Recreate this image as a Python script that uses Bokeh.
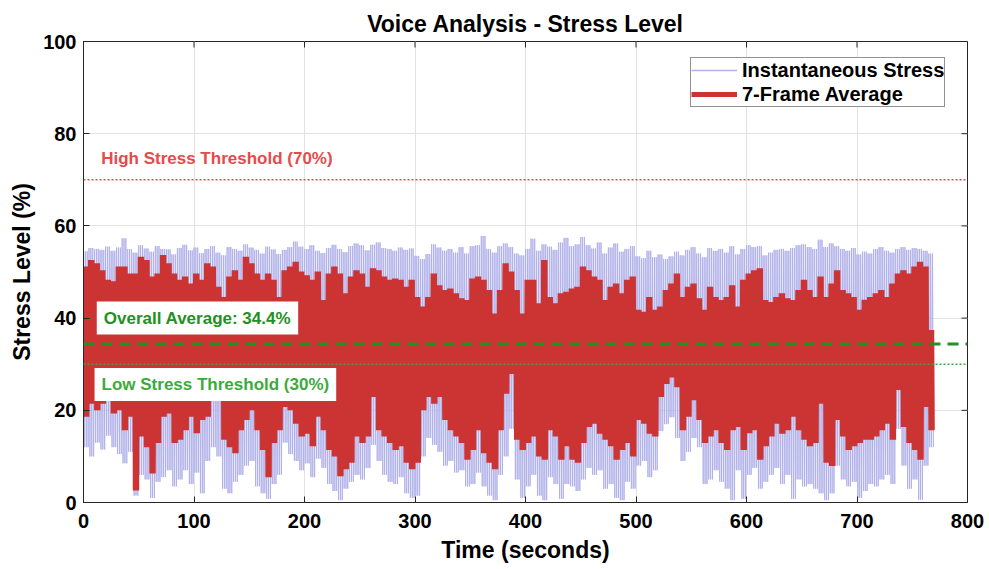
import numpy as np
from bokeh.plotting import figure
from bokeh.models import (Label, Span, Legend, LegendItem, Range1d, FixedTicker)
from bokeh.embed import file_html
from bokeh.resources import INLINE

# ---------------- data (5-second blocks) ----------------
block_len = 5.0
block_start = list(range(0, 770, 5))  # seconds

red_hi = [51.2, 52.6, 51.9, 50.4, 48.3, 48.0, 51.2, 51.2, 49.7, 49.7, 53.3, 52.6, 49.0, 49.7, 53.7, 51.9, 49.7, 48.3,
          49.0, 47.5, 49.7, 48.3, 51.9, 51.2, 46.8, 44.6, 49.0, 50.4, 48.3, 53.3, 51.9, 49.7, 48.3, 49.7, 48.3, 44.6,
          50.4, 51.2, 52.2, 50.1, 49.3, 48.3, 50.1, 43.9, 49.7, 51.2, 49.7, 45.4, 49.0, 50.4, 49.7, 46.8, 50.8, 50.4,
          49.0, 48.3, 48.6, 48.3, 46.8, 48.3, 44.6, 42.5, 44.6, 49.7, 47.1, 46.1, 46.4, 45.4, 44.3, 43.9, 48.6, 49.0,
          48.3, 46.1, 41.0, 46.1, 51.9, 50.1, 46.1, 41.0, 48.3, 48.3, 43.2, 52.6, 44.6, 43.2, 45.4, 45.7, 46.4, 46.8,
          51.2, 50.4, 49.0, 48.3, 43.9, 46.8, 47.5, 45.4, 48.3, 49.0, 41.8, 41.4, 44.6, 41.8, 42.5, 46.1, 47.5, 49.7,
          44.6, 46.8, 47.5, 44.3, 41.8, 46.8, 44.6, 43.9, 44.6, 47.1, 42.5, 48.3, 49.7, 50.4, 50.8, 43.9, 43.5, 44.6,
          45.4, 44.3, 43.9, 46.1, 48.3, 46.1, 44.6, 49.0, 44.6, 47.5, 50.4, 46.1, 45.4, 44.6, 41.8, 44.0, 44.6, 45.4,
          46.1, 44.6, 47.5, 49.7, 50.4, 49.7, 51.2, 52.2, 51.2, 37.4]

red_lo = [18.6, 21.4, 20.0, 21.4, 22.9, 19.3, 20.0, 15.7, 18.6, 2.6, 14.3, 12.0, 6.3, 12.9, 18.6, 19.3, 12.9, 13.6,
          15.7, 18.6, 15.0, 17.9, 18.6, 22.1, 22.9, 13.6, 12.0, 10.7, 15.7, 17.9, 20.0, 15.7, 11.4, 5.5, 12.9, 15.7,
          20.7, 20.0, 17.1, 14.3, 14.9, 12.2, 18.6, 15.7, 11.4, 10.0, 5.7, 7.2, 8.6, 14.3, 12.9, 14.3, 22.9, 15.7,
          14.3, 12.9, 11.4, 12.2, 8.6, 7.2, 8.6, 20.0, 22.9, 21.4, 22.9, 17.9, 15.7, 14.3, 12.9, 9.3, 11.4, 15.7,
          10.7, 8.6, 7.2, 15.7, 23.6, 27.9, 13.6, 11.4, 12.9, 14.3, 10.0, 9.3, 15.7, 14.3, 9.3, 12.2, 9.3, 8.6,
          12.9, 16.4, 17.1, 14.9, 13.6, 12.2, 9.3, 11.4, 12.9, 10.0, 17.9, 17.1, 14.9, 14.3, 22.9, 25.7, 27.1, 25.0,
          15.7, 18.6, 22.2, 17.9, 12.9, 14.3, 15.7, 12.9, 11.4, 15.7, 16.4, 11.4, 15.0, 15.7, 9.3, 12.2, 14.3, 17.1,
          14.9, 15.7, 18.6, 15.7, 13.6, 12.2, 12.9, 21.4, 8.6, 7.9, 17.9, 14.3, 11.4, 12.2, 12.9, 13.6, 13.6, 14.3,
          15.7, 17.1, 13.6, 24.4, 16.4, 12.9, 11.4, 9.3, 20.7, 15.7]

blue_hi = [54.5, 55.2, 55.0, 54.8, 55.5, 54.6, 55.3, 57.3, 55.0, 54.2, 55.8, 55.1, 54.4, 55.6, 55.0, 54.9, 53.8, 55.2,
           55.9, 54.7, 55.3, 54.1, 55.0, 55.6, 54.2, 53.6, 55.4, 55.0, 54.6, 56.0, 55.3, 54.8, 54.0, 55.5, 54.9, 53.9,
           54.8, 55.4, 56.6, 55.5, 55.0, 55.8, 54.6, 54.1, 55.2, 55.9, 55.0, 54.3, 55.6, 56.2, 55.8, 54.7, 55.9, 56.4,
           55.2, 55.0, 54.6, 55.3, 54.8, 55.1, 53.5, 52.8, 53.9, 56.0, 55.3, 54.6, 55.0, 54.2, 55.4, 54.0, 55.6, 55.8,
           57.8, 55.0, 54.2, 55.6, 56.2, 55.4, 54.0, 53.6, 55.0, 57.2, 54.6, 56.0, 55.5, 54.8, 56.4, 57.4, 55.6, 56.0,
           57.6, 55.8, 55.1, 56.4, 54.0, 55.3, 56.2, 54.4, 55.0, 55.6, 53.4, 53.0, 54.6, 53.2, 53.8, 52.8, 53.4, 54.4,
           53.6, 54.8, 55.4, 54.0, 53.2, 55.2, 54.6, 55.0, 54.2, 55.6, 53.8, 55.0, 55.8, 55.4, 55.6, 53.6, 54.2, 54.8,
           55.0, 54.6, 55.2, 55.8, 56.0, 55.4, 55.0, 57.0, 55.4, 56.2, 55.6, 55.0, 54.6, 55.2, 53.8, 54.4, 54.0, 55.0,
           55.4, 54.6, 54.2, 55.0, 55.4, 54.8, 55.2, 55.0, 54.6, 54.0]

blue_lo = [12.0, 10.0, 13.0, 11.5, 14.5, 12.0, 10.5, 8.5, 11.0, 1.5, 6.0, 5.0, 1.0, 4.5, 5.5, 7.0, 3.5, 5.0,
           7.0, 4.0, 6.5, 2.0, 9.0, 12.0, 10.0, 3.0, 2.0, 4.5, 6.0, 8.0, 9.0, 3.5, 2.0, 0.8, 4.0, 6.0,
           13.0, 10.5, 9.0, 7.0, 8.5, 5.5, 9.5, 7.5, 4.0, 2.5, 0.5, 3.0, 4.5, 6.0, 5.0, 7.5, 12.5, 9.0,
           6.0, 4.5, 4.0, 5.5, 2.0, 1.0, 1.5, 10.0, 14.0, 12.5, 11.0, 8.0, 9.0, 6.5, 7.0, 3.5, 4.0, 6.5,
           3.5, 1.5, 0.5, 6.0, 10.0, 16.0, 5.0, 1.0, 3.5, 6.0, 1.5, 0.5, 5.5, 4.0, 0.8, 4.0, 3.5, 2.5,
           5.0, 7.5, 6.0, 7.0, 3.0, 4.0, 1.0, 0.5, 4.5, 3.0, 8.0, 9.0, 5.5, 7.0, 15.5, 17.0, 18.5, 14.0,
           9.0, 11.0, 14.0, 12.0, 4.0, 5.0, 7.0, 4.5, 3.0, 0.5, 7.0, 0.8, 6.0, 7.5, 3.0, 4.5, 6.0, 7.5,
           4.0, 6.0, 0.8, 5.0, 3.5, 4.0, 3.0, 2.0, 0.5, 2.0, 8.0, 5.0, 3.5, 4.5, 1.0, 2.5, 4.0, 3.5,
           5.0, 6.0, 4.0, 16.0, 8.0, 3.0, 5.0, 0.6, 8.0, 12.0]

overall_avg = 34.4
high_thr = 70
low_thr = 30
x_ticks = [0, 100, 200, 300, 400, 500, 600, 700, 800]
y_ticks = [0, 20, 40, 60, 80, 100]
x_max = 800
y_max = 100

# ---------------- build the frame series from the block values ----------------
BLUE_FRAMES = 6
RED_FRAMES = 10
blue_t, blue_v = [], []
for s, hi, lo in zip(block_start, blue_hi, blue_lo):
    for k in range(BLUE_FRAMES):
        blue_t.append(s + k * block_len / BLUE_FRAMES)
        blue_v.append(hi if k % 2 == 0 else lo)

red_t, red_v = [], []
for s, hi, lo in zip(block_start, red_hi, red_lo):
    for k in range(RED_FRAMES):
        red_t.append(s + k * block_len / RED_FRAMES)
        red_v.append(hi if k % 2 == 0 else lo)

FONT = "Liberation Sans"
BLUE = "#B2B2EA"
RED = "#CC3333"
HIGH_C = "#E54B4B"
AVG_C = "#229122"
LOW_C = "#3DAA3D"
AX_C = "#262626"

p = figure(width=989, height=569, x_range=Range1d(0, x_max), y_range=Range1d(0, y_max),
           output_backend="svg", toolbar_location=None, title="Voice Analysis - Stress Level")
p.min_border_left = 83
p.min_border_right = 22
p.min_border_top = 41
p.min_border_bottom = 67
p.background_fill_color = "white"
p.border_fill_color = "white"
p.outline_line_color = AX_C
p.outline_line_width = 1

p.title.align = "center"
p.title.text_font = FONT
p.title.text_font_size = "23px"
p.title.text_font_style = "bold"
p.title.text_color = "black"
p.title.standoff = 9

for ax in (p.xaxis[0], p.yaxis[0]):
    ax.major_label_text_font = FONT
    ax.major_label_text_font_size = "20px"
    ax.major_label_text_font_style = "bold"
    ax.major_label_text_color = "black"
    ax.axis_label_text_font = FONT
    ax.axis_label_text_font_size = "23px"
    ax.axis_label_text_font_style = "bold"
    ax.axis_label_text_color = "black"
    ax.major_tick_in = 6
    ax.major_tick_out = 0
    ax.minor_tick_in = 0
    ax.minor_tick_out = 0
    ax.axis_line_color = AX_C
    ax.major_tick_line_color = AX_C

p.xaxis.ticker = FixedTicker(ticks=x_ticks)
p.yaxis.ticker = FixedTicker(ticks=y_ticks)
p.xaxis.axis_label = "Time (seconds)"
p.yaxis.axis_label = "Stress Level (%)"
p.xaxis.major_label_standoff = 11
p.xaxis.axis_label_standoff = 6
p.yaxis.major_label_standoff = 7
p.yaxis.axis_label_standoff = 5

p.xgrid.ticker = FixedTicker(ticks=x_ticks)
p.ygrid.ticker = FixedTicker(ticks=y_ticks)
p.grid.grid_line_color = "#E2E2E2"
p.grid.grid_line_width = 1

blue_r = p.line(blue_t, blue_v, line_color=BLUE, line_width=1, line_join="bevel")
red_r = p.line(red_t, red_v, line_color=RED, line_width=2, line_join="bevel")

# inward ticks on the right and top edges of the box
p.ray(x=[x_max] * len(y_ticks), y=y_ticks, length=6, length_units="screen",
      angle=np.pi, line_color=AX_C, line_width=1)
p.ray(x=x_ticks, y=[y_max] * len(x_ticks), length=6, length_units="screen",
      angle=-np.pi / 2, line_color=AX_C, line_width=1)

# legend proxies with the legend's line widths
leg_blue = p.line([np.nan], [np.nan], line_color=BLUE, line_width=1.5)
leg_red = p.line([np.nan], [np.nan], line_color=RED, line_width=5)

p.add_layout(Span(location=high_thr, dimension="width", line_color=HIGH_C,
                  line_width=1.5, line_dash="2 2"))
p.add_layout(Span(location=low_thr, dimension="width", line_color=LOW_C,
                  line_width=1.5, line_dash="2 2"))
p.add_layout(Span(location=overall_avg, dimension="width", line_color=AVG_C,
                  line_width=3, line_dash="11 7"))

p.add_layout(Label(x=16, y=74.6, text=f"High Stress Threshold ({high_thr}%)",
                   text_font=FONT, text_font_size="17px", text_font_style="bold",
                   text_color=HIGH_C, text_baseline="middle"))
p.add_layout(Label(x=12, y=40.0, text=f"Overall Average: {overall_avg}%",
                   text_font=FONT, text_font_size="17px", text_font_style="bold",
                   text_color=AVG_C, text_baseline="middle",
                   background_fill_color="white", background_fill_alpha=1, padding=7))
p.add_layout(Label(x=10, y=25.6, text=f"Low Stress Threshold ({low_thr}%)",
                   text_font=FONT, text_font_size="17px", text_font_style="bold",
                   text_color=LOW_C, text_baseline="middle",
                   background_fill_color="white", background_fill_alpha=1, padding=7))

legend = Legend(items=[LegendItem(label="Instantaneous Stress", renderers=[leg_blue]),
                       LegendItem(label="7-Frame Average", renderers=[leg_red])],
                location=(607, 395))
legend.label_text_font = FONT
legend.label_text_font_size = "20px"
legend.label_text_font_style = "bold"
legend.label_text_color = "black"
legend.glyph_width = 46
legend.glyph_height = 24
legend.label_height = 24
legend.label_standoff = 5
legend.padding = 0
legend.spacing = 0
legend.margin = 0
legend.border_line_color = AX_C
legend.border_line_width = 1
legend.background_fill_color = "white"
legend.background_fill_alpha = 1
p.add_layout(legend)

open("out.html", "w").write(file_html(p, INLINE))
